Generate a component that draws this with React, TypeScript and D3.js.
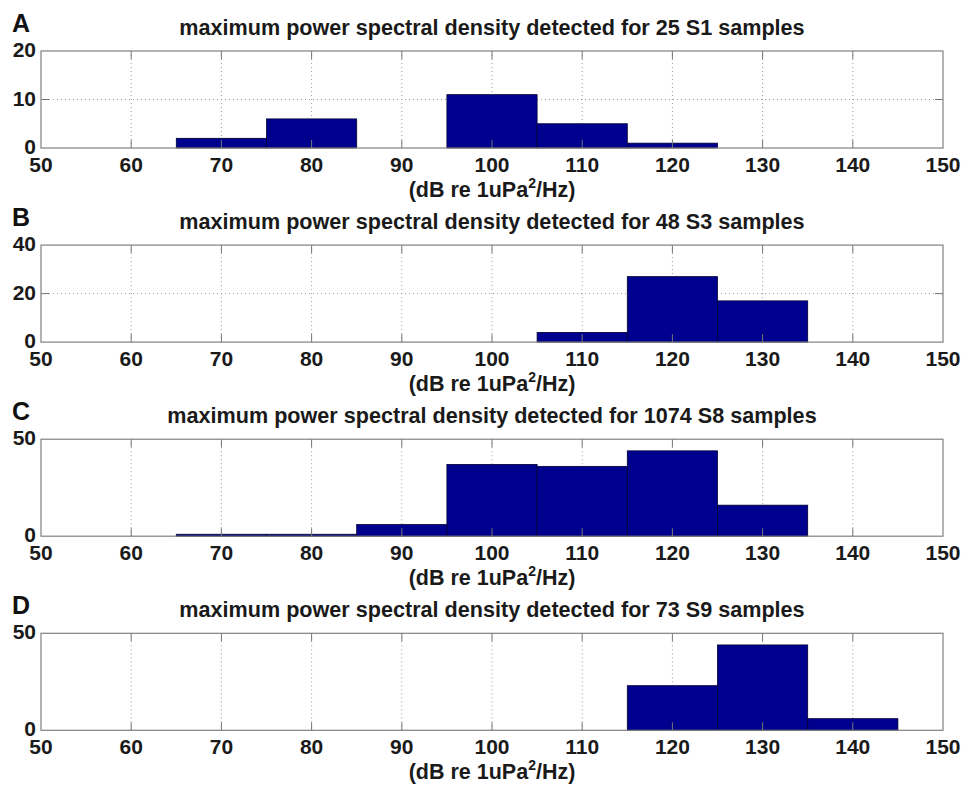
import React, { useEffect, useRef } from 'react';
import * as d3 from 'd3';

// histogram data (bins 10 dB wide)
const panelLetters = ['A', 'B', 'C', 'D'];
const sampleLabels = ['25 S1', '48 S3', '1074 S8', '73 S9'];
const binCenters = [70, 80, 90, 100, 110, 120, 130, 140];
const countsA = [2, 6, 0, 11, 5, 1, 0, 0];
const countsB = [0, 0, 0, 0, 4, 27, 17, 0];
const countsC = [1, 1, 6, 37, 36, 44, 16, 0];
const countsD = [0, 0, 0, 0, 0, 23, 44, 6];
const yTicksA = [0, 10, 20];
const yTicksB = [0, 20, 40];
const yTicksC = [0, 50];
const yTicksD = [0, 50];
const xTicks = [50, 60, 70, 80, 90, 100, 110, 120, 130, 140, 150];

const FONT = '"Liberation Sans", Arial, Helvetica, sans-serif';

export default function App() {
  const svgRef = useRef<SVGSVGElement>(null);

  useEffect(() => {
    if (!svgRef.current) return;
    const svg = d3.select(svgRef.current);
    svg.selectAll('*').remove();

    const left = 41;
    const right = 943;
    const x = d3.scaleLinear().domain([50, 150]).range([left, right]);

    const panels = [
      { counts: countsA, yTicks: yTicksA },
      { counts: countsB, yTicks: yTicksB },
      { counts: countsC, yTicks: yTicksC },
      { counts: countsD, yTicks: yTicksD },
    ];

    panels.forEach((p, i) => {
      const top = 51 + i * 194.1;
      const bottom = top + 97;
      const yMax = d3.max(p.yTicks) as number;
      const y = d3.scaleLinear().domain([0, yMax]).range([bottom, top]);
      const g = svg.append('g');

      // dotted grid
      g.selectAll('.vgrid')
        .data(xTicks.slice(1, -1))
        .enter()
        .append('line')
        .attr('x1', d => x(d)).attr('x2', d => x(d))
        .attr('y1', top).attr('y2', bottom)
        .attr('stroke', '#9a9a9a')
        .attr('stroke-width', 1)
        .attr('stroke-dasharray', '1,3');

      g.selectAll('.hgrid')
        .data(p.yTicks.slice(1, -1))
        .enter()
        .append('line')
        .attr('x1', left).attr('x2', right)
        .attr('y1', d => y(d)).attr('y2', d => y(d))
        .attr('stroke', '#9a9a9a')
        .attr('stroke-width', 1)
        .attr('stroke-dasharray', '1,3');

      // bars
      const bins = binCenters
        .map((c, k) => ({ c, n: p.counts[k] }))
        .filter(d => d.n > 0);
      g.selectAll('.bar')
        .data(bins)
        .enter()
        .append('rect')
        .attr('x', d => x(d.c - 5))
        .attr('width', d => x(d.c + 5) - x(d.c - 5))
        .attr('y', d => y(d.n))
        .attr('height', d => bottom - y(d.n))
        .attr('fill', '#00008f')
        .attr('stroke', '#000033')
        .attr('stroke-width', 0.8);

      // ticks (inward, top and bottom / left and right)
      const tickLen = 8;
      xTicks.slice(1, -1).forEach(t => {
        g.append('line')
          .attr('x1', x(t)).attr('x2', x(t))
          .attr('y1', bottom).attr('y2', bottom - tickLen)
          .attr('stroke', '#777');
        g.append('line')
          .attr('x1', x(t)).attr('x2', x(t))
          .attr('y1', top).attr('y2', top + tickLen)
          .attr('stroke', '#777');
      });
      p.yTicks.slice(1, -1).forEach(t => {
        g.append('line')
          .attr('x1', left).attr('x2', left + tickLen)
          .attr('y1', y(t)).attr('y2', y(t))
          .attr('stroke', '#777');
        g.append('line')
          .attr('x1', right).attr('x2', right - tickLen)
          .attr('y1', y(t)).attr('y2', y(t))
          .attr('stroke', '#777');
      });

      // frame
      g.append('rect')
        .attr('x', left).attr('y', top)
        .attr('width', right - left).attr('height', bottom - top)
        .attr('fill', 'none')
        .attr('stroke', '#808080')
        .attr('stroke-width', 1.2);

      // tick labels
      g.selectAll('.xlab')
        .data(xTicks)
        .enter()
        .append('text')
        .attr('x', d => x(d))
        .attr('y', bottom + 24)
        .attr('text-anchor', 'middle')
        .attr('font-family', FONT)
        .attr('font-size', 21)
        .attr('font-weight', 'bold')
        .attr('fill', '#1a1a1a')
        .text(d => d);

      g.selectAll('.ylab')
        .data(p.yTicks)
        .enter()
        .append('text')
        .attr('x', 36)
        .attr('y', d => y(d) + 6)
        .attr('text-anchor', 'end')
        .attr('font-family', FONT)
        .attr('font-size', 21)
        .attr('font-weight', 'bold')
        .attr('fill', '#1a1a1a')
        .text(d => d);

      // x label with superscript
      const xl = g.append('text')
        .attr('x', (left + right) / 2)
        .attr('y', bottom + 49)
        .attr('text-anchor', 'middle')
        .attr('font-family', FONT)
        .attr('font-size', 21.5)
        .attr('font-weight', 'bold')
        .attr('fill', '#1a1a1a');
      xl.append('tspan').text('(dB re 1uPa');
      xl.append('tspan').attr('dy', -9).attr('font-size', 14).text('2');
      xl.append('tspan').attr('dy', 9).text('/Hz)');

      // title
      g.append('text')
        .attr('x', (left + right) / 2)
        .attr('y', top - 16)
        .attr('text-anchor', 'middle')
        .attr('font-family', FONT)
        .attr('font-size', 21.6)
        .attr('font-weight', 'bold')
        .attr('fill', '#1a1a1a')
        .text(`maximum power spectral density detected for ${sampleLabels[i]} samples`);

      // panel letter
      g.append('text')
        .attr('x', 12)
        .attr('y', top - 19)
        .attr('font-family', FONT)
        .attr('font-size', 25)
        .attr('font-weight', 'bold')
        .attr('fill', '#111')
        .text(panelLetters[i]);
    });
  }, []);

  return (
    <svg
      ref={svgRef}
      width={962}
      height={787}
      style={{ position: 'absolute', left: 0, top: 0, background: '#fff' }}
    />
  );
}
